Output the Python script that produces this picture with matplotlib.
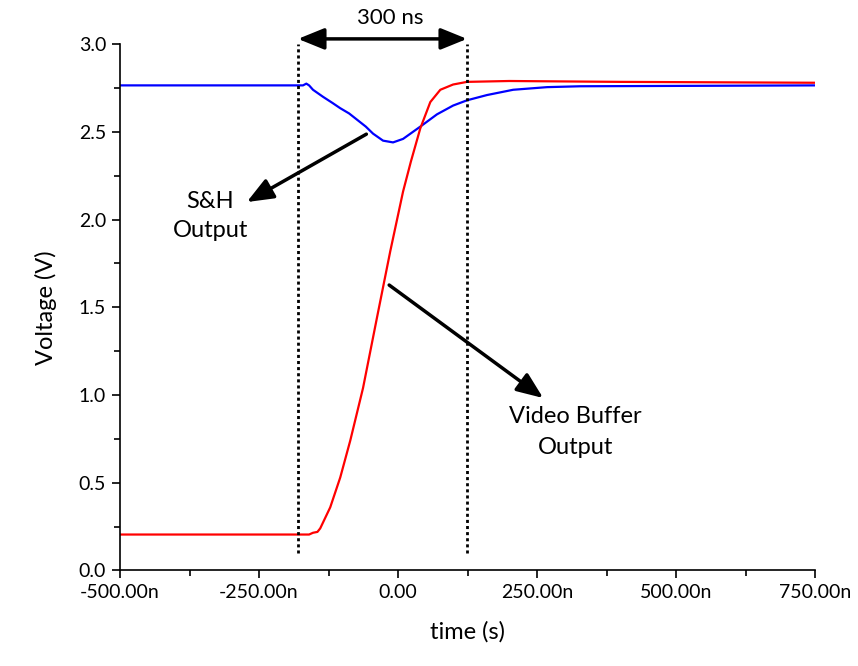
import matplotlib.pyplot as plt
from matplotlib.ticker import FixedLocator, FixedFormatter, MultipleLocator

plt.rcParams["font.family"] = ["Lato", "DejaVu Sans"]

# --- Datos (tiempo en ns, tensión en V) -------------------------------------
t_video = [-500, -160, -153, -145, -140, -122, -104, -86, -63, -38, -14, 9,
           23, 40, 58, 76, 99, 124, 200, 400, 750]
v_video = [0.205, 0.205, 0.215, 0.22, 0.24, 0.36, 0.53, 0.74, 1.04, 1.44,
           1.82, 2.16, 2.33, 2.52, 2.67, 2.74, 2.77, 2.785, 2.79, 2.785, 2.78]

t_sh = [-500, -171, -165, -160, -153, -135, -118, -104, -88, -74, -58, -45,
        -27, -9, 9, 40, 70, 99, 124, 160, 207, 268, 328, 750]
v_sh = [2.765, 2.765, 2.775, 2.765, 2.74, 2.70, 2.665, 2.635, 2.605, 2.57,
        2.53, 2.49, 2.45, 2.44, 2.46, 2.53, 2.60, 2.65, 2.68, 2.71, 2.74,
        2.755, 2.76, 2.765]

x_ticks = [-500, -250, 0, 250, 500, 750]
x_labels = ["-500.00n", "-250.00n", "0.00", "250.00n", "500.00n", "750.00n"]
y_ticks = [0.0, 0.5, 1.0, 1.5, 2.0, 2.5, 3.0]

t_ini, t_fin = -180, 124   # ventana de 300 ns

# --- Figura ------------------------------------------------------------------
fig = plt.figure(figsize=(8.58, 6.66), dpi=100)
ax = fig.add_axes([0.1399, 0.1434, 0.8101, 0.7903])

ax.plot(t_sh, v_sh, color="#0000ff", lw=1.6)
ax.plot(t_video, v_video, color="#ff0000", lw=1.6)

for t in (t_ini, t_fin):
    ax.plot([t, t], [0.1, 3.0], color="black", lw=2, ls=(0, (1.1, 1.1)))

flecha = dict(arrowstyle="-|>,head_length=1.6,head_width=0.65",
              color="black", lw=2.5, shrinkA=0, shrinkB=0)
ax.annotate("", xy=(t_ini, 3.03), xytext=(t_fin, 3.03),
            arrowprops=dict(flecha, arrowstyle="<|-|>,head_length=1.6,head_width=0.65"),
            annotation_clip=False)
ax.text(-14, 3.15, "300 ns", ha="center", va="center", fontsize=16,
        clip_on=False)

ax.annotate("", xy=(-272, 2.10), xytext=(-57, 2.487), arrowprops=flecha)
ax.text(-338, 2.02, "S&H\nOutput", ha="center", va="center", fontsize=17,
        linespacing=1.5)

ax.annotate("", xy=(261, 0.983), xytext=(-16, 1.627), arrowprops=flecha)
ax.text(319, 0.79, "Video Buffer\nOutput", ha="center", va="center",
        fontsize=17, linespacing=1.55)

ax.set_xlim(-500, 750)
ax.set_ylim(0, 3.0)
ax.xaxis.set_major_locator(FixedLocator(x_ticks))
ax.xaxis.set_major_formatter(FixedFormatter(x_labels))
ax.xaxis.set_minor_locator(MultipleLocator(125))
ax.yaxis.set_major_locator(FixedLocator(y_ticks))
ax.yaxis.set_minor_locator(MultipleLocator(0.25))
ax.yaxis.set_major_formatter(lambda v, p: f"{v:.1f}")

ax.tick_params(which="major", direction="out", length=6, width=1.2,
               labelsize=14, pad=4)
ax.tick_params(which="minor", direction="out", length=4, width=1.2)
ax.spines["top"].set_visible(False)
ax.spines["right"].set_visible(False)
for lado in ("left", "bottom"):
    ax.spines[lado].set_linewidth(1.2)

ax.set_xlabel("time (s)", fontsize=17, labelpad=14)
ax.set_ylabel("Voltage (V)", fontsize=17, labelpad=16)

fig.savefig("out.png", dpi=100)
